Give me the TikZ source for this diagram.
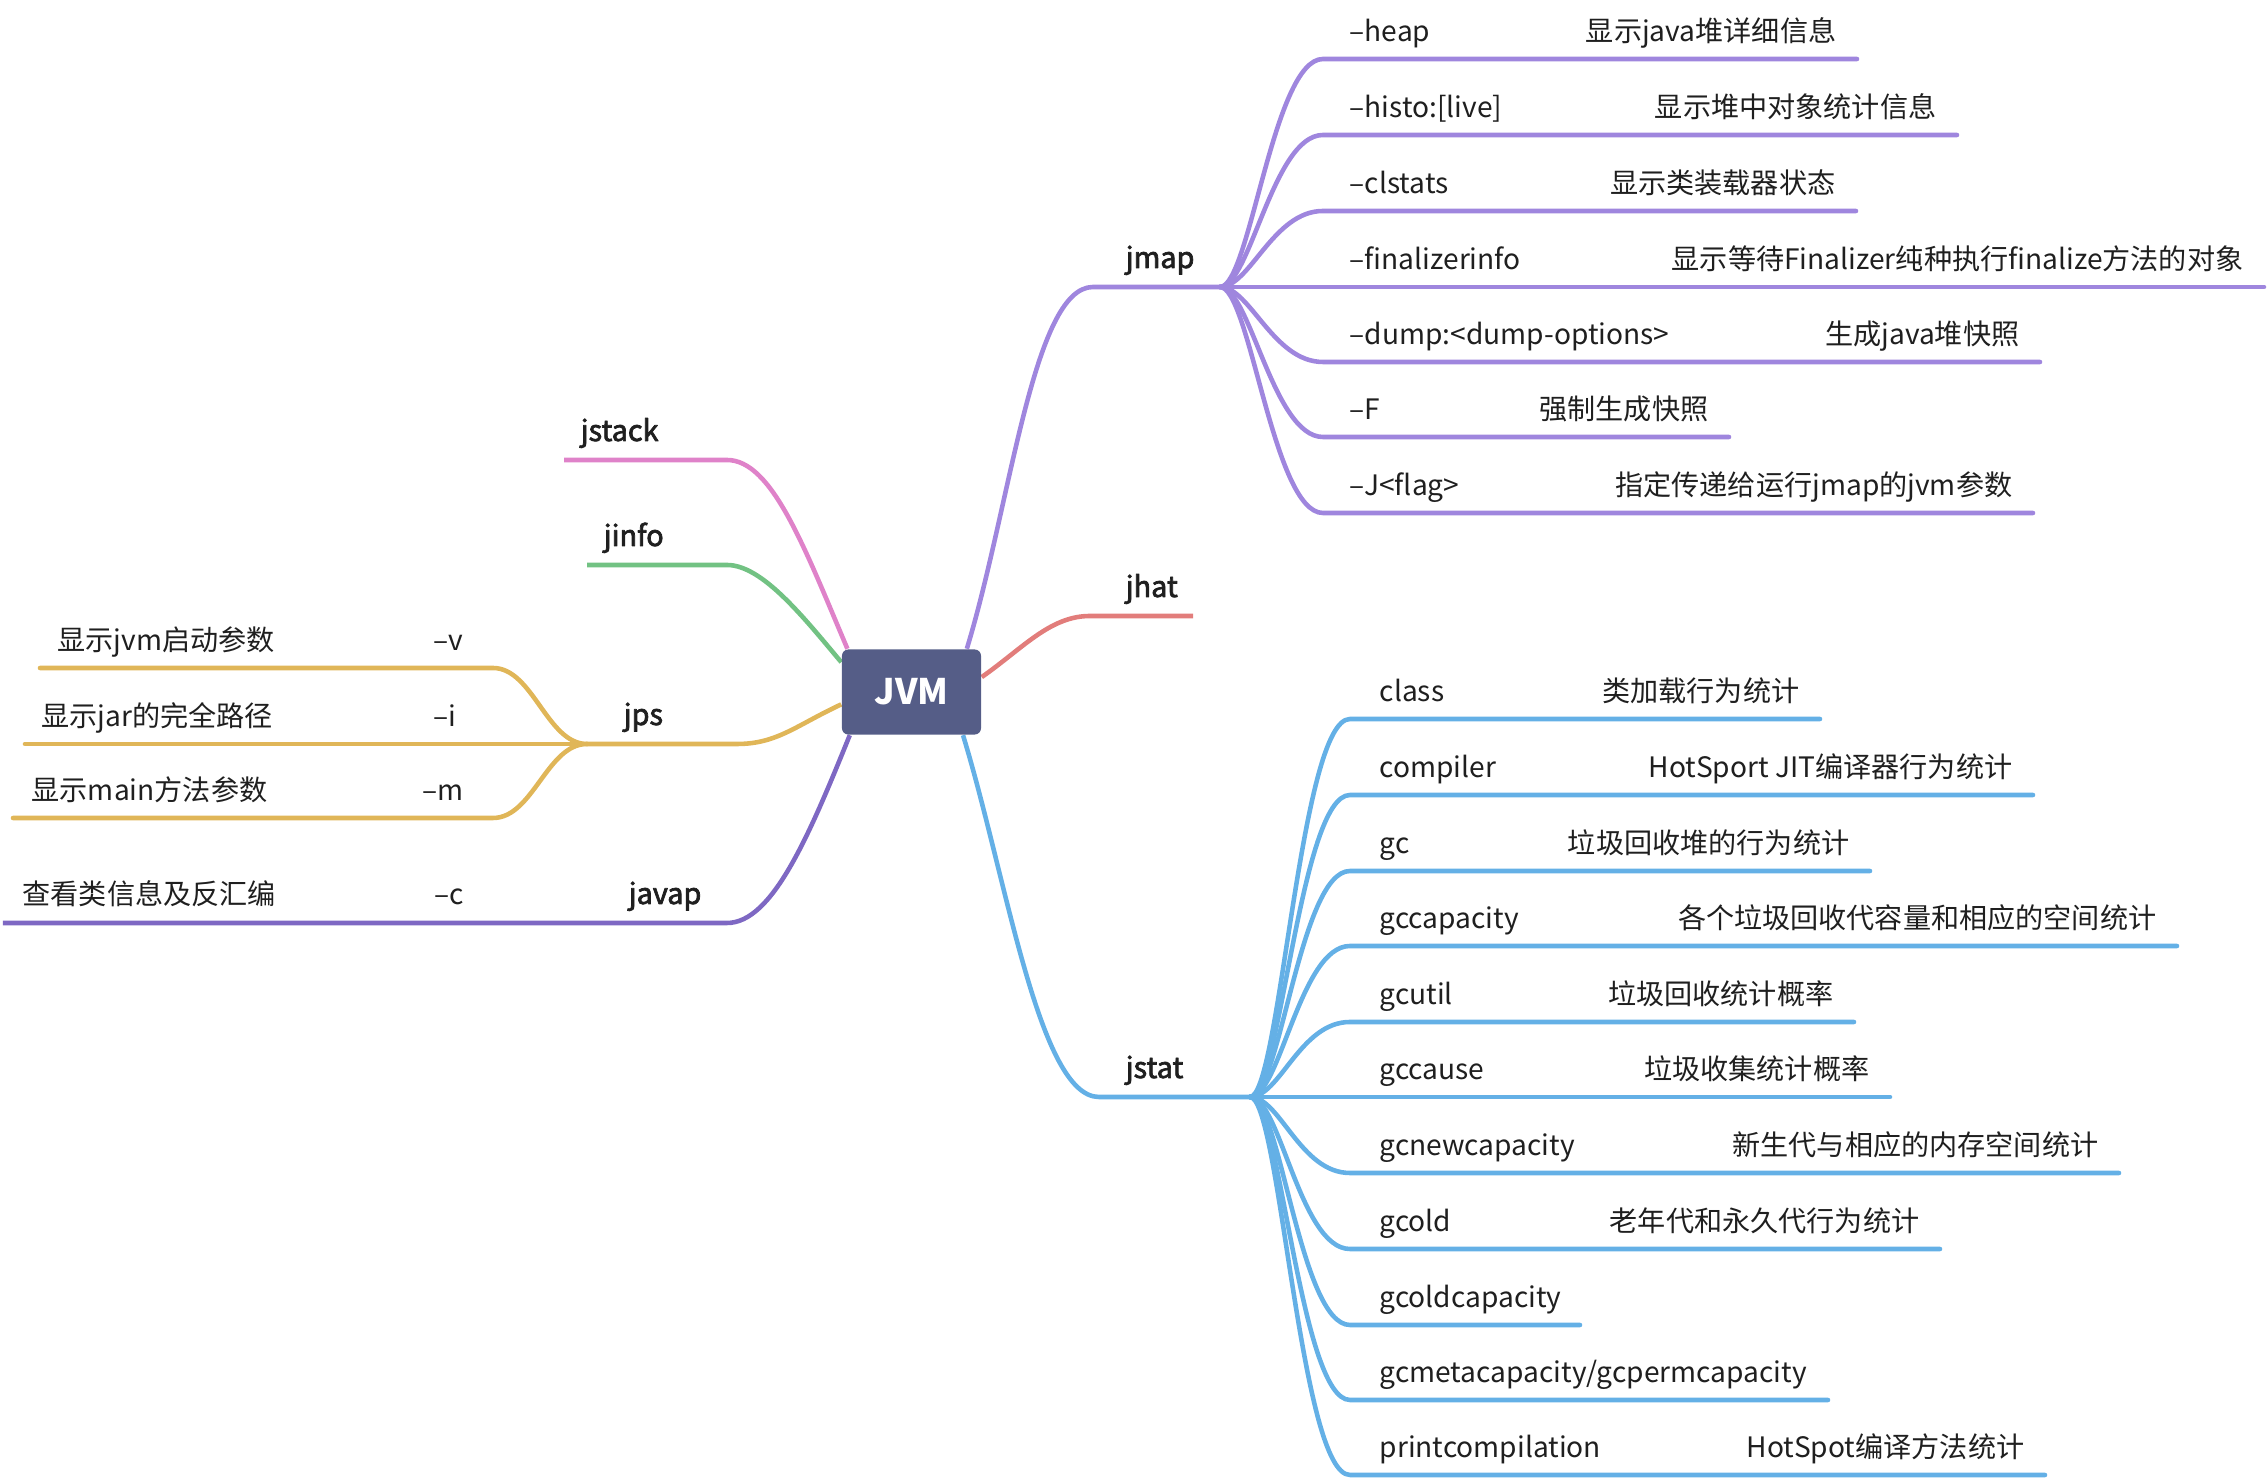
\documentclass[tikz,border=0pt]{standalone}
\usepackage{fontspec}
\setmainfont{Noto Sans CJK SC}
\newfontfamily\topicfont{Noto Sans CJK SC}[FakeBold=2.5]
\usetikzlibrary{backgrounds}

\definecolor{boxc}{HTML}{555D87}
\definecolor{jmapc}{HTML}{9F86DE}
\definecolor{jstatc}{HTML}{64B0E6}
\definecolor{jhatc}{HTML}{E27D7B}
\definecolor{jstackc}{HTML}{DF82C9}
\definecolor{jinfoc}{HTML}{72C283}
\definecolor{jpsc}{HTML}{E0B658}
\definecolor{javapc}{HTML}{7E68C3}

\begin{document}
\begin{tikzpicture}[x=0.01cm,y=0.01cm,line cap=round,line join=round,
  every node/.style={inner sep=0pt,text=black!88},
  leaf/.style={font=\fontsize{8pt}{10pt}\selectfont},
  topic/.style={font=\fontsize{8.2pt}{10pt}\topicfont},
  branch/.style={line width=1.3pt}]
  \useasboundingbox (0,0) rectangle (2268,-1480);

  \node[fill=boxc,rounded corners=1.8pt,minimum width=1.39cm,minimum height=0.85cm,
    text=white,font=\fontsize{10pt}{12pt}\selectfont\bfseries] (jvm) at (911.5,-692) {JVM};

  % branches leaving the box
  \coordinate (jmapL) at (1093,-287);
  \coordinate (jmapJ) at (1220,-287);
  \coordinate (jhatL) at (1090,-616);
  \coordinate (jhatE) at (1193,-616);
  \coordinate (jstatL) at (1099,-1097);
  \coordinate (jstatJ) at (1250,-1097);
  \coordinate (jstackL) at (727,-460);
  \coordinate (jstackE) at (564,-460);
  \coordinate (jinfoL) at (727,-565);
  \coordinate (jinfoE) at (587,-565);
  \coordinate (jpsL) at (737,-744);
  \coordinate (jpsJ) at (587,-744);
  \coordinate (javapL) at (727,-923);
  \coordinate (javapE) at (3,-923);
  \begin{scope}[on background layer]
    \draw[branch,jmapc] (jvm.38) .. controls +(73:150) and +(-60,0) .. (jmapL) -- (jmapJ);
    \draw[branch,jhatc] (jvm.12) .. controls +(35:50) and +(-40,0) .. (jhatL) -- (jhatE);
    \draw[branch,jstatc] (jvm.-40) .. controls +(-73:150) and +(-60,0) .. (jstatL) -- (jstatJ);
    \draw[branch,jstackc] (jvm.146) .. controls +(113:110) and +(45,0) .. (jstackL) -- (jstackE);
    \draw[branch,jinfoc] (jvm.157) .. controls +(130:60) and +(35,0) .. (jinfoL) -- (jinfoE);
    \draw[branch,jpsc] (jvm.190) .. controls +(205:50) and +(40,0) .. (jpsL) -- (jpsJ);
    \draw[branch,javapc] (jvm.215) .. controls +(248:110) and +(45,0) .. (javapL) -- (javapE);
  \end{scope}

  \node[topic,anchor=base west] (jmap) at (1125,-268) {jmap};
  \node[topic,anchor=base west] (jhat) at (1125,-597) {jhat};
  \node[topic,anchor=base west] (jstat) at (1125,-1078) {jstat};
  \node[topic,anchor=base west] (jstack) at (580,-441) {jstack};
  \node[topic,anchor=base west] (jinfo) at (603,-546) {jinfo};
  \node[topic,anchor=base west] (jps) at (623,-725) {jps};
  \node[topic,anchor=base west] (javap) at (628,-904) {javap};

  % jmap
  \foreach \y/\e/\opt/\txt [count=\i] in {
    59/1857/{–heap}/{显示java堆详细信息},
    135/1957/{–histo:[live]}/{显示堆中对象统计信息},
    211/1856/{–clstats}/{显示类装载器状态},
    287/2264/{–finalizerinfo}/{显示等待Finalizer纯种执行finalize方法的对象},
    362/2040/{–dump:<dump-options>}/{生成java堆快照},
    437/1729/{–F}/{强制生成快照},
    513/2033/{–J<flag>}/{指定传递给运行jmap的jvm参数}}{
    \coordinate (jmap-s\i) at (1323,-\y);
    \coordinate (jmap-e\i) at (\e,-\y);
    \draw[branch,jmapc] (jmapJ) .. controls +(30,0) and +(-50,0) .. (jmap-s\i) -- (jmap-e\i);
    \node[leaf,anchor=base west] (jmap-o\i) at (1349,-\y+17) {\opt};
    \node[leaf,anchor=base east] (jmap-d\i) at (\e-20,-\y+17) {\txt};
  }

  % jstat
  \foreach \y/\e/\opt/\txt [count=\i] in {
    719/1820/{class}/{类加载行为统计},
    795/2033/{compiler}/{HotSport JIT编译器行为统计},
    871/1870/{gc}/{垃圾回收堆的行为统计},
    946/2177/{gccapacity}/{各个垃圾回收代容量和相应的空间统计},
    1022/1854/{gcutil}/{垃圾回收统计概率},
    1097/1890/{gccause}/{垃圾收集统计概率},
    1173/2119/{gcnewcapacity}/{新生代与相应的内存空间统计},
    1249/1940/{gcold}/{老年代和永久代行为统计},
    1325/1580/{gcoldcapacity}/{},
    1400/1828/{gcmetacapacity/gcpermcapacity}/{},
    1475/2045/{printcompilation}/{HotSpot编译方法统计}}{
    \coordinate (jstat-s\i) at (1350,-\y);
    \coordinate (jstat-e\i) at (\e,-\y);
    \draw[branch,jstatc] (jstatJ) .. controls +(30,0) and +(-50,0) .. (jstat-s\i) -- (jstat-e\i);
    \node[leaf,anchor=base west] (jstat-o\i) at (1379,-\y+17) {\opt};
    \node[leaf,anchor=base east] (jstat-d\i) at (\e-20,-\y+17) {\txt};
  }

  % jps
  \coordinate (jpsV) at (493,-668);
  \coordinate (jpsVE) at (40,-668);
  \coordinate (jpsIE) at (25,-744);
  \coordinate (jpsM) at (493,-818);
  \coordinate (jpsME) at (13,-818);
  \draw[branch,jpsc] (jpsJ) .. controls +(-40,0) and +(40,0) .. (jpsV) -- (jpsVE);
  \draw[branch,jpsc] (jpsJ) -- (jpsIE);
  \draw[branch,jpsc] (jpsJ) .. controls +(-40,0) and +(40,0) .. (jpsM) -- (jpsME);
  \node[leaf,anchor=base west] (jps-v) at (433,-651) {–v};
  \node[leaf,anchor=base west] (jps-i) at (433,-727) {–i};
  \node[leaf,anchor=base west] (jps-m) at (422,-801) {–m};
  \node[leaf,anchor=base west] (jps-vd) at (57,-651) {显示jvm启动参数};
  \node[leaf,anchor=base west] (jps-id) at (41,-727) {显示jar的完全路径};
  \node[leaf,anchor=base west] (jps-md) at (31,-801) {显示main方法参数};

  % javap
  \node[leaf,anchor=base west] (javap-c) at (434,-905) {–c};
  \node[leaf,anchor=base west] (javap-cd) at (22,-905) {查看类信息及反汇编};
\end{tikzpicture}
\end{document}
